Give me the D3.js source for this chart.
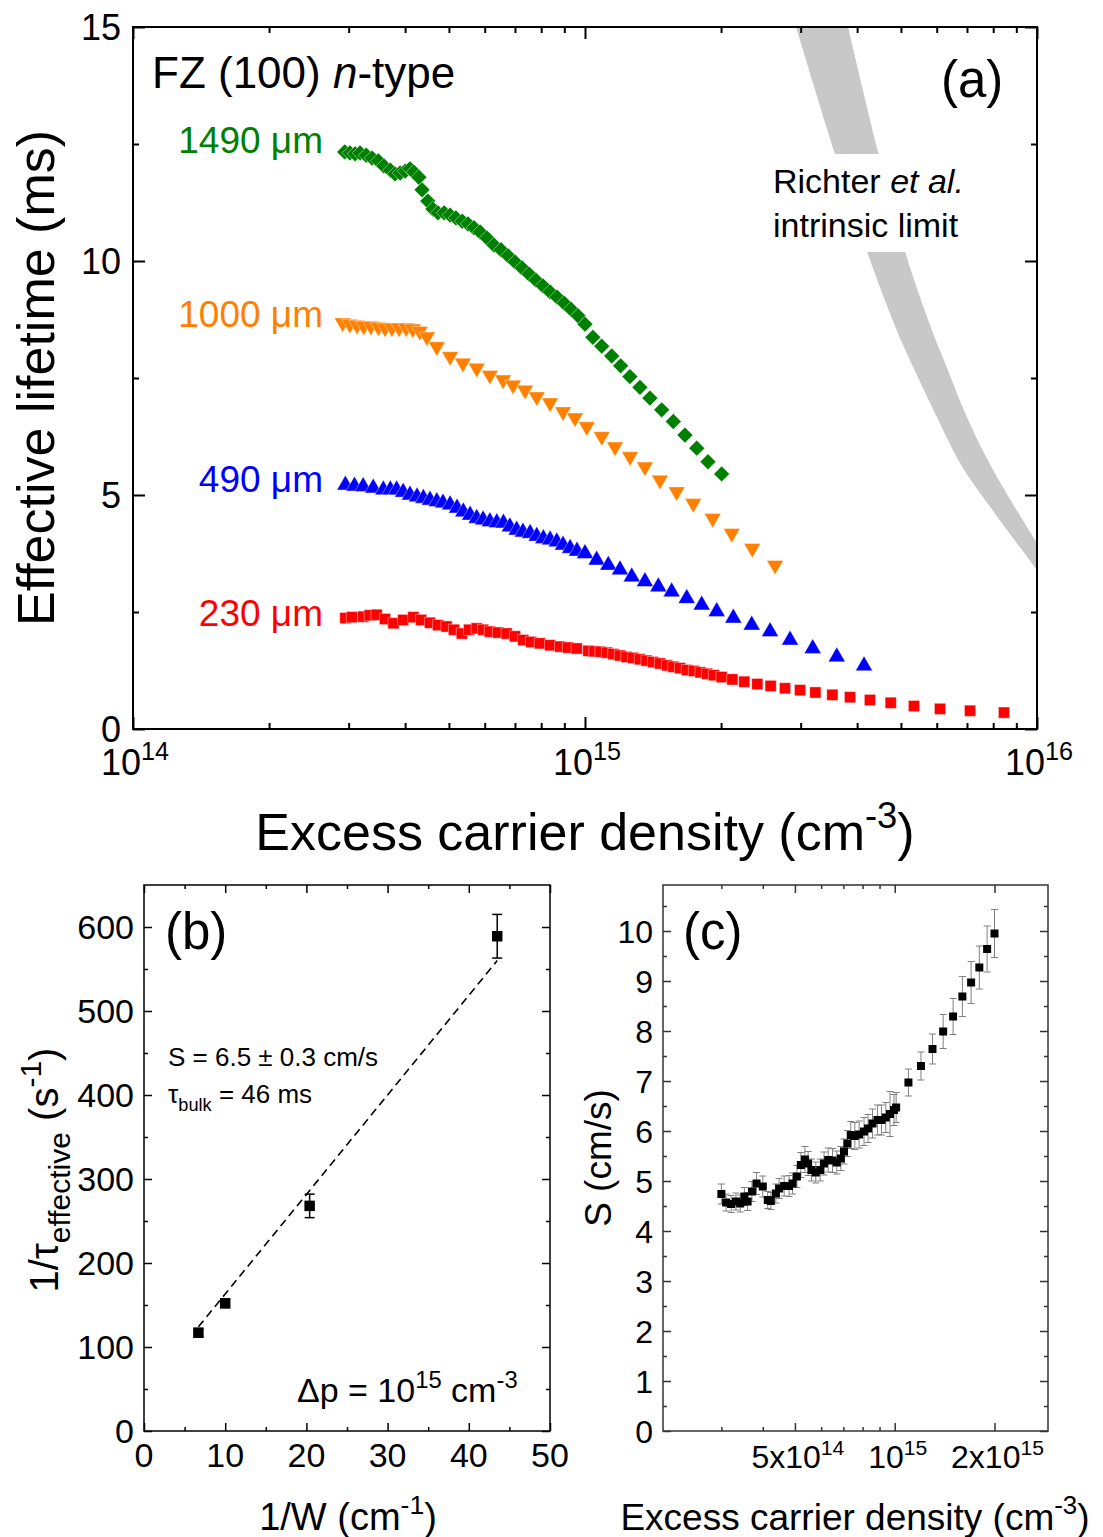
<!DOCTYPE html>
<html>
<head>
<meta charset="utf-8">
<script src="https://cdn.jsdelivr.net/npm/d3@7"></script>
<style>
  body { margin: 0; background: #fff; }
  svg { display: block; }
  text { font-family: "Liberation Sans", Arial, sans-serif; }
</style>
</head>
<body>
<script>
// ---------- data ----------
// panel (a): excess carrier density in units of 1e14 cm^-3, lifetime in ms
const dn1490 = [2.94,3.02,3.10,3.18,3.28,3.38,3.49,3.59,3.71,3.80,3.90,4.00,4.10,4.18,4.29,4.36,4.49,4.61,4.73,4.88,
  5.03,5.18,5.35,5.51,5.68,5.86,6.07,6.29,6.52,6.76,7.00,7.26,7.52,7.79,8.07,8.37,8.67,8.99,9.31,9.65,10.0,
  10.41,10.89,11.46,11.99,12.57,13.23,13.92,14.78,15.68,16.64,17.67,18.71,20.06];
const tau1490 = [12.33,12.31,12.29,12.31,12.26,12.20,12.14,12.03,11.94,11.86,11.88,11.92,11.97,11.90,11.79,11.52,11.28,11.11,11.03,11.03,
  10.98,10.92,10.85,10.79,10.71,10.62,10.49,10.34,10.24,10.11,9.98,9.85,9.72,9.59,9.47,9.34,9.23,9.10,8.97,8.83,8.65,
  8.37,8.18,7.97,7.76,7.53,7.30,7.07,6.82,6.57,6.28,6.00,5.71,5.45];

const dn1000 = [2.91,3.02,3.13,3.24,3.36,3.49,3.61,3.74,3.88,4.02,4.16,4.31,4.47,4.70,5.03,5.37,5.76,6.16,6.59,6.93,
  7.37,7.82,8.37,8.94,9.50,10.09,10.89,11.65,12.58,13.57,14.65,15.95,17.36,19.16,21.12,23.45,26.33];
const tau1000 = [8.68,8.65,8.63,8.61,8.61,8.59,8.57,8.57,8.57,8.57,8.55,8.50,8.38,8.17,7.96,7.82,7.71,7.56,7.46,7.35,
  7.24,7.10,6.97,6.78,6.65,6.46,6.25,6.03,5.82,5.60,5.32,5.07,4.82,4.50,4.18,3.86,3.50];

const dn490 = [2.95,3.09,3.23,3.40,3.58,3.71,3.83,3.96,4.10,4.25,4.39,4.54,4.70,4.85,5.03,5.21,5.38,5.57,5.76,5.95,
  6.16,6.38,6.60,6.82,7.06,7.29,7.56,7.82,8.09,8.37,8.66,8.94,9.27,9.60,10.0,
  10.61,11.26,11.95,12.69,13.57,14.53,15.55,16.79,18.12,19.56,21.29,23.38,25.67,28.42,31.90,36.06,41.43];
const tau490 = [5.21,5.19,5.18,5.15,5.11,5.11,5.11,5.06,5.00,4.96,4.93,4.89,4.86,4.83,4.79,4.72,4.64,4.57,4.50,4.47,
  4.43,4.41,4.40,4.32,4.25,4.21,4.18,4.12,4.07,4.04,4.00,3.93,3.86,3.80,3.75,
  3.61,3.50,3.40,3.25,3.15,3.04,2.93,2.79,2.65,2.51,2.37,2.22,2.08,1.90,1.72,1.54,1.35];

const dn230 = [2.95,3.05,3.23,3.34,3.46,3.61,3.77,3.96,4.17,4.34,4.54,4.73,4.94,5.13,5.34,5.54,5.76,5.95,6.16,6.42,
  6.71,7.00,7.30,7.60,7.95,8.37,8.81,9.17,9.59,10.17,10.49,10.82,11.19,11.55,11.95,12.35,12.77,13.23,13.68,14.14,
  14.65,15.19,15.69,16.23,16.81,17.42,18.01,18.62,19.29,20.06,21.18,22.51,24.05,25.75,27.70,29.91,32.33,35.26,38.58,42.70,
  47.47,53.44,61.02,71.10,84.53];
const tau230 = [2.37,2.39,2.40,2.43,2.44,2.35,2.26,2.33,2.39,2.33,2.27,2.22,2.19,2.12,2.04,2.12,2.15,2.12,2.08,2.06,
  2.04,1.98,1.90,1.86,1.83,1.79,1.76,1.74,1.72,1.67,1.66,1.65,1.63,1.60,1.57,1.54,1.52,1.49,1.46,1.43,
  1.40,1.36,1.33,1.30,1.26,1.24,1.21,1.18,1.15,1.11,1.06,1.01,0.96,0.92,0.87,0.83,0.78,0.73,0.68,0.62,
  0.56,0.49,0.43,0.39,0.35];

// Richter intrinsic limit band, two edges (1e14 cm^-3, ms)
const richterLowDn  = [29.3,35.7,42.1,48.9,53.3,59.0,67.6,78.7,100];
const richterLowTau = [15.0,12.30,10.19,8.53,7.72,6.82,5.68,4.75,3.40];
const richterHighDn  = [38.2,44.6,51.1,58.5,63.1,69.9,80.0,100];
const richterHighTau = [15.0,12.30,10.19,8.53,7.74,6.67,5.53,3.97];

// panel (b)
const invW = [6.7, 10.0, 20.4, 43.5];
const invTau = [117, 152, 268, 589];
const invTauErr = [5, 5, 14, 26];
const fitInvW = [6.7, 43.5];
const fitInvTau = [124, 560];

// panel (c): density in 1e14 cm^-3, S in cm/s
const dnS = [3.00,3.10,3.21,3.32,3.42,3.52,3.60,3.71,3.83,4.00,4.14,4.23,4.38,4.48,4.64,4.80,4.92,5.07,5.21,5.36,
  5.48,5.61,5.78,5.96,6.12,6.30,6.49,6.69,6.88,7.03,7.20,7.37,7.58,7.81,8.08,8.31,8.57,8.87,9.12,9.40,
  9.68,9.95,10.1,11,12,13,14,15,16,17,18,19,20];
const sVal = [4.74,4.57,4.54,4.59,4.55,4.69,4.59,4.79,4.95,4.89,4.62,4.60,4.75,4.85,4.90,4.90,4.95,5.09,5.32,5.43,
  5.35,5.22,5.17,5.22,5.35,5.42,5.41,5.37,5.45,5.59,5.75,5.92,5.90,5.93,5.99,6.05,6.15,6.22,6.22,6.27,
  6.34,6.42,6.47,6.97,7.30,7.64,7.99,8.29,8.69,8.97,9.27,9.64,9.95];
const sErr = [0.20,0.17,0.17,0.17,0.17,0.18,0.18,0.20,0.22,0.21,0.17,0.17,0.19,0.20,0.20,0.21,0.21,0.22,0.25,0.26,
  0.24,0.22,0.21,0.22,0.23,0.24,0.24,0.23,0.24,0.25,0.26,0.27,0.27,0.27,0.28,0.28,0.29,0.30,0.30,0.30,
  0.45,0.31,0.30,0.27,0.28,0.30,0.34,0.36,0.40,0.42,0.43,0.46,0.48];

// ---------- helpers ----------
const svg = d3.select("body").append("svg").attr("width", 1103).attr("height", 1537);

// text with sub/superscript and italic pieces
function rich(sel, parts, size, ratio = 0.7) {
  let shift = 0;
  parts.forEach(p => {
    if (typeof p === "string") p = {t: p};
    const target = p.sup ? -0.42 * size : p.sub ? 0.3 * size : 0;
    const ts = sel.append("tspan").text(p.t).attr("dy", target - shift);
    if (p.sup || p.sub) ts.attr("font-size", size * ratio);
    if (p.it) ts.attr("font-style", "italic");
    shift = target;
  });
  return sel;
}

function frame(x, y, o) {
  const g = svg.append("g");
  const [x0, x1] = x.range(), [y0, y1] = y.range();
  const add = (axis, tr, vals, len) => {
    const a = g.append("g").attr("transform", tr)
      .call(axis.tickValues(vals).tickSize(-len).tickFormat(""));
    a.select(".domain").remove();
    a.selectAll("line").attr("stroke", o.color).attr("stroke-width", o.width);
  };
  [[o.xMajor, o.major], [o.xMinor, o.minor]].forEach(([v, l]) => {
    add(d3.axisBottom(x), `translate(0,${y0})`, v, l);
    add(d3.axisTop(x), `translate(0,${y1})`, v, l);
  });
  [[o.yMajor, o.major], [o.yMinor, o.minor]].forEach(([v, l]) => {
    add(d3.axisLeft(y), `translate(${x0},0)`, v, l);
    add(d3.axisRight(y), `translate(${x1},0)`, v, l);
  });
  g.append("rect").attr("x", x0).attr("y", y1).attr("width", x1 - x0).attr("height", y0 - y1)
    .attr("fill", "none").attr("stroke", o.color).attr("stroke-width", o.width);
  return g;
}

// ---------- panel (a) ----------
const xA = d3.scaleLog().domain([1e14, 1e16]).range([133, 1037]);
const yA = d3.scaleLinear().domain([0, 15]).range([729, 27]);

svg.append("clipPath").attr("id", "clipA").append("rect")
  .attr("x", 133).attr("y", 27).attr("width", 904).attr("height", 702);

const edge = d3.line().x(d => xA(d[0] * 1e14)).y(d => yA(d[1])).curve(d3.curveCatmullRom);
const dHigh = edge(d3.zip(richterHighDn, richterHighTau));
const dLow = edge(d3.zip(richterLowDn, richterLowTau).reverse());
svg.append("path")
  .attr("clip-path", "url(#clipA)")
  .attr("d", dHigh + "L" + dLow.slice(1) + "Z")
  .attr("fill", "#c8c8c8");

svg.append("rect").attr("x", 768).attr("y", 154).attr("width", 214).attr("height", 98).attr("fill", "#fff");

const seriesA = [
  {dn: dn230, tau: tau230, color: "#ff0000", sym: d3.symbolSquare, size: 125, rot: 0},
  {dn: dn490, tau: tau490, color: "#0000ff", sym: d3.symbolTriangle, size: 125, rot: 0},
  {dn: dn1000, tau: tau1000, color: "#ff8000", sym: d3.symbolTriangle, size: 120, rot: 180},
  {dn: dn1490, tau: tau1490, color: "#008000", sym: d3.symbolSquare, size: 125, rot: 45}
];
seriesA.forEach(s => {
  svg.append("g").selectAll("path").data(d3.zip(s.dn, s.tau)).join("path")
    .attr("d", d3.symbol(s.sym, s.size))
    .attr("transform", d => `translate(${xA(d[0] * 1e14)},${yA(d[1])}) rotate(${s.rot})`)
    .attr("fill", s.color).attr("stroke", "#fff").attr("stroke-width", 0.4);
});

const decA = [1e14, 1e15, 1e16];
frame(xA, yA, {
  xMajor: decA,
  xMinor: [2,3,4,5,6,7,8,9].flatMap(k => [k * 1e14, k * 1e15]),
  yMajor: [0, 5, 10, 15], yMinor: [2.5, 7.5, 12.5],
  major: 12, minor: 6, width: 2, color: "#000"
});

svg.append("g").selectAll("text").data([0, 5, 10, 15]).join("text")
  .attr("x", 121).attr("y", d => yA(d)).attr("dy", "0.36em")
  .attr("text-anchor", "end").attr("font-size", 36).text(d => d);
decA.forEach(v => {
  rich(svg.append("text").attr("x", xA(v) + 2).attr("y", 775)
    .attr("text-anchor", "middle").attr("font-size", 36),
    ["10", {t: String(Math.round(Math.log10(v))), sup: true}], 36);
});

rich(svg.append("text").attr("text-anchor", "middle").attr("font-size", 52)
  .attr("transform", "translate(54,378) rotate(-90)"), ["Effective lifetime (ms)"], 52);
rich(svg.append("text").attr("x", 585).attr("y", 850).attr("text-anchor", "middle").attr("font-size", 52),
  ["Excess carrier density (cm", {t: "-3", sup: true}, ")"], 52);

rich(svg.append("text").attr("x", 152).attr("y", 88).attr("font-size", 44),
  ["FZ (100) ", {t: "n", it: true}, "-type"], 44);
svg.append("text").attr("x", 941).attr("y", 97).attr("font-size", 51).text("(a)");
rich(svg.append("text").attr("x", 773).attr("y", 193).attr("font-size", 34),
  ["Richter ", {t: "et al.", it: true}], 34);
svg.append("text").attr("x", 773).attr("y", 237).attr("font-size", 34).text("intrinsic limit");

[["1490 μm", "#008000", 153], ["1000 μm", "#ff8000", 327], ["490 μm", "#0000ff", 492], ["230 μm", "#ff0000", 626]]
  .forEach(([t, c, yy]) => svg.append("text").attr("x", 323).attr("y", yy)
    .attr("text-anchor", "end").attr("font-size", 37).attr("fill", c).text(t));

// ---------- panel (b) ----------
const xB = d3.scaleLinear().domain([0, 50]).range([144, 550]);
const yB = d3.scaleLinear().domain([0, 650]).range([1431, 885]);

svg.append("path")
  .attr("d", d3.line().x(d => xB(d[0])).y(d => yB(d[1]))(d3.zip(fitInvW, fitInvTau)))
  .attr("fill", "none").attr("stroke", "#000").attr("stroke-width", 1.6).attr("stroke-dasharray", "8,5");

const bPts = d3.zip(invW, invTau, invTauErr);
const eb = svg.append("g").attr("stroke", "#000").attr("stroke-width", 1.5);
eb.selectAll(".v").data(bPts).join("line")
  .attr("x1", d => xB(d[0])).attr("x2", d => xB(d[0]))
  .attr("y1", d => yB(d[1] - d[2])).attr("y2", d => yB(d[1] + d[2]));
eb.selectAll(".c").data(bPts.flatMap(d => [[d[0], d[1] - d[2]], [d[0], d[1] + d[2]]])).join("line")
  .attr("x1", d => xB(d[0]) - 5).attr("x2", d => xB(d[0]) + 5)
  .attr("y1", d => yB(d[1])).attr("y2", d => yB(d[1]));
svg.append("g").selectAll("path").data(bPts).join("path")
  .attr("d", d3.symbol(d3.symbolSquare, 110))
  .attr("transform", d => `translate(${xB(d[0])},${yB(d[1])})`).attr("fill", "#000");

frame(xB, yB, {
  xMajor: d3.range(0, 51, 10), xMinor: d3.range(5, 50, 10),
  yMajor: d3.range(0, 601, 100), yMinor: d3.range(50, 600, 100),
  major: 8, minor: 4, width: 1.5, color: "#000"
});
svg.append("g").selectAll("text").data(d3.range(0, 601, 100)).join("text")
  .attr("x", 134).attr("y", d => yB(d)).attr("dy", "0.36em")
  .attr("text-anchor", "end").attr("font-size", 34).text(d => d);
svg.append("g").selectAll("text").data(d3.range(0, 51, 10)).join("text")
  .attr("x", d => xB(d)).attr("y", 1467)
  .attr("text-anchor", "middle").attr("font-size", 34).text(d => d);

rich(svg.append("text").attr("x", 348).attr("y", 1530).attr("text-anchor", "middle").attr("font-size", 38),
  ["1/W (cm", {t: "-1", sup: true}, ")"], 38);
rich(svg.append("text").attr("text-anchor", "middle").attr("font-size", 40)
  .attr("transform", "translate(58,1170) rotate(-90)"),
  ["1/τ", {t: "effective", sub: true}, " (s", {t: "-1", sup: true}, ")"], 40, 0.75);

svg.append("text").attr("x", 165).attr("y", 949).attr("font-size", 51).text("(b)");
svg.append("text").attr("x", 168).attr("y", 1066).attr("font-size", 26).text("S = 6.5 ± 0.3 cm/s");
rich(svg.append("text").attr("x", 168).attr("y", 1103).attr("font-size", 26),
  ["τ", {t: "bulk", sub: true}, " = 46 ms"], 26);
rich(svg.append("text").attr("x", 297).attr("y", 1402).attr("font-size", 34),
  ["Δp = 10", {t: "15", sup: true}, " cm", {t: "-3", sup: true}], 34);

// ---------- panel (c) ----------
const xC = d3.scaleLog().domain([2e14, 2.9e15]).range([663, 1048]);
const yC = d3.scaleLinear().domain([0, 10.92]).range([1431, 885]);

const cPts = d3.zip(dnS, sVal, sErr);
const ec = svg.append("g").attr("stroke", "#808080").attr("stroke-width", 1);
ec.selectAll(".v").data(cPts).join("line")
  .attr("x1", d => xC(d[0] * 1e14)).attr("x2", d => xC(d[0] * 1e14))
  .attr("y1", d => yC(d[1] - d[2])).attr("y2", d => yC(d[1] + d[2]));
ec.selectAll(".c").data(cPts.flatMap(d => [[d[0], d[1] - d[2]], [d[0], d[1] + d[2]]])).join("line")
  .attr("x1", d => xC(d[0] * 1e14) - 3.5).attr("x2", d => xC(d[0] * 1e14) + 3.5)
  .attr("y1", d => yC(d[1])).attr("y2", d => yC(d[1]));
svg.append("g").selectAll("path").data(cPts).join("path")
  .attr("d", d3.symbol(d3.symbolSquare, 64))
  .attr("transform", d => `translate(${xC(d[0] * 1e14)},${yC(d[1])})`).attr("fill", "#000");

frame(xC, yC, {
  xMajor: [5e14, 1e15, 2e15], xMinor: [3e14, 4e14, 6e14, 7e14, 8e14, 9e14],
  yMajor: d3.range(0, 11), yMinor: d3.range(0.5, 10.6, 1),
  major: 8, minor: 4, width: 1.5, color: "#333"
});
svg.append("g").selectAll("text").data(d3.range(0, 11)).join("text")
  .attr("x", 653).attr("y", d => yC(d)).attr("dy", "0.36em")
  .attr("text-anchor", "end").attr("font-size", 32).text(d => d);
[[5e14, "5x10", "14"], [1e15, "10", "15"], [2e15, "2x10", "15"]].forEach(([v, b, e]) => {
  rich(svg.append("text").attr("x", xC(v) + 3).attr("y", 1468).attr("text-anchor", "middle").attr("font-size", 32),
    [b, {t: e, sup: true}], 32, 0.66);
});

rich(svg.append("text").attr("x", 855).attr("y", 1530).attr("text-anchor", "middle").attr("font-size", 37),
  ["Excess carrier density (cm", {t: "-3", sup: true}, ")"], 37);
svg.append("text").attr("text-anchor", "middle").attr("font-size", 37)
  .attr("transform", "translate(611,1158) rotate(-90)").text("S (cm/s)");
svg.append("text").attr("x", 683).attr("y", 949).attr("font-size", 51).text("(c)");
</script>
</body>
</html>
